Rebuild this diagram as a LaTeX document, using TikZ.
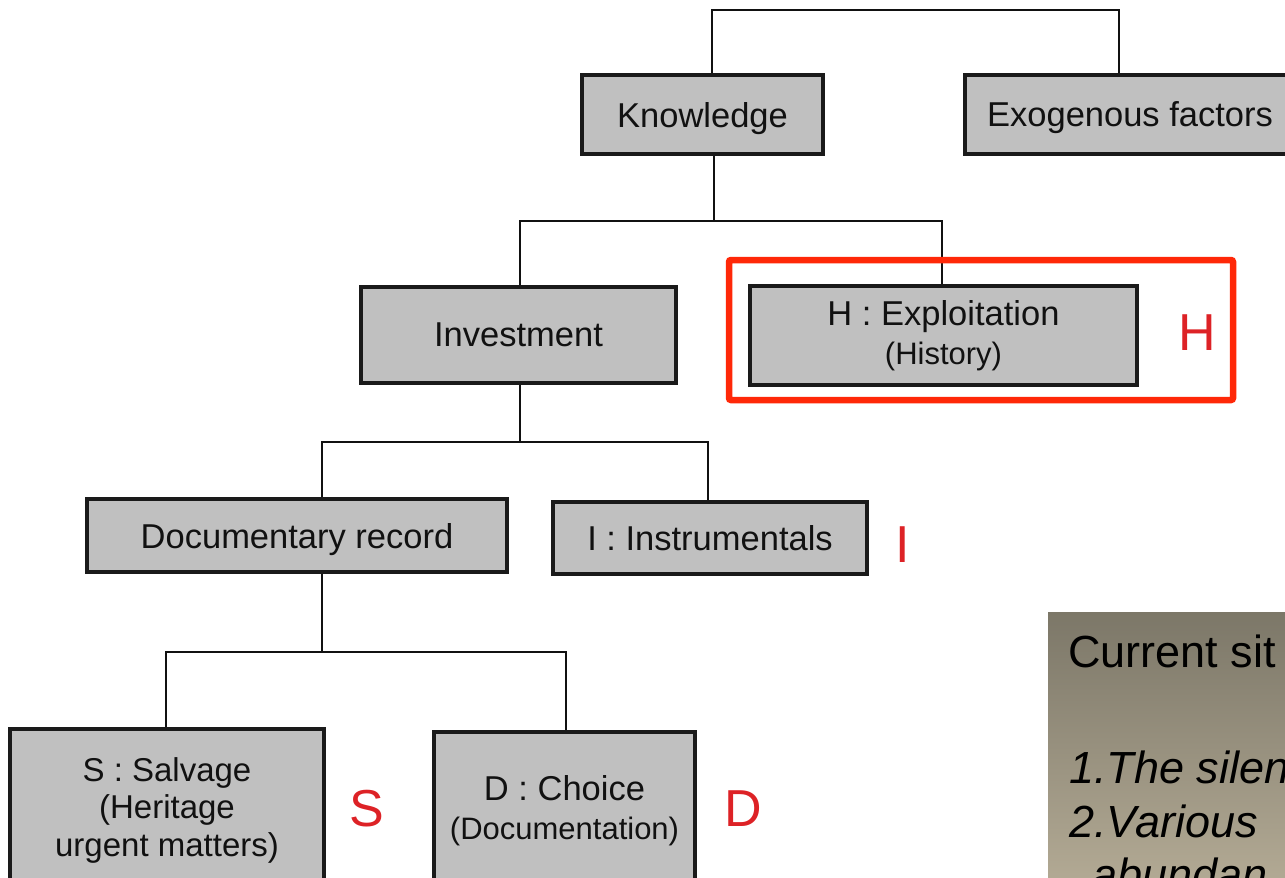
\documentclass[tikz,border=0pt]{standalone}
\usepackage{fontspec}
\setmainfont{Liberation Sans}
\definecolor{boxfill}{HTML}{C0C0C0}
\definecolor{boxline}{HTML}{1A1A1A}
\definecolor{linecol}{HTML}{111111}
\definecolor{textdark}{HTML}{111111}
\definecolor{tagred}{HTML}{DD2226}
\definecolor{framered}{HTML}{FF2808}
\definecolor{panelTop}{RGB}{124,119,104}
\definecolor{panelBot}{RGB}{182,173,151}
\newcommand{\subfont}{\fontsize{31}{37}\selectfont}
\begin{document}
\begin{tikzpicture}[x=1pt,y=-1pt,
  box/.style={draw=boxline, line width=3.2pt, fill=boxfill, text=textdark,
    inner sep=0pt, align=center, font=\fontsize{34.5}{39}\selectfont},
  oneline/.style={text depth=0pt},
  link/.style={draw=linecol, line width=2.8pt},
  tag/.style={text=tagred, inner sep=0pt, font=\fontsize{52}{52}\selectfont},
  paneltext/.style={anchor=base west, inner sep=0pt, text=black,
    font=\fontsize{45}{54}\selectfont},
  panelitem/.style={paneltext, font=\fontsize{45}{54}\selectfont\itshape}]
\useasboundingbox (0,0) rectangle (1285,878);
\clip (0,0) rectangle (1285,878);

% junction points of the tree connectors
\coordinate (t0) at (712,10);  \coordinate (t1) at (1119,10);
\coordinate (k0) at (714,221); \coordinate (kL) at (520,221); \coordinate (kR) at (942,221);
\coordinate (i0) at (520,442); \coordinate (iL) at (322,442); \coordinate (iR) at (708,442);
\coordinate (d0) at (322,652); \coordinate (dL) at (166,652); \coordinate (dR) at (566,652);

% boxes
\node[box, oneline, minimum width=241pt, minimum height=79pt]  (know)  at (702.5,114.5) {Knowledge};
\node[box, oneline, minimum width=330pt, minimum height=79pt]  (exo)   at (1130,114.5) {Exogenous factors};
\node[box, oneline, minimum width=315pt, minimum height=96pt]  (inv)   at (518.5,335) {Investment};
\node[box, minimum width=387pt, minimum height=99pt]  (hist)   at (943.5,335.5) {H : Exploitation\\{\subfont (History)}};
\node[box, oneline, minimum width=420pt, minimum height=73pt]  (doc)   at (297,535.5) {Documentary record};
\node[box, oneline, minimum width=314pt, minimum height=72pt]  (instr) at (710,538) {I : Instrumentals};
\node[box, minimum width=314pt, minimum height=162pt, font=\fontsize{33}{37.5}\selectfont]
  (salv) at (167,810) {S : Salvage\\(Heritage\\urgent matters)};
\node[box, minimum width=261pt, minimum height=158pt] (choice) at (564.5,811) {D : Choice\\{\subfont (Documentation)}};

% tree connectors
\draw[link] (know.north -| t0) -- (t0) -- (t1) -- (exo.north -| t1);
\draw[link] (know.south -| k0) -- (k0);
\draw[link] (inv.north -| kL) -- (kL) -- (kR) -- (hist.north -| kR);
\draw[link] (inv.south -| i0) -- (i0);
\draw[link] (doc.north -| iL) -- (iL) -- (iR) -- (instr.north -| iR);
\draw[link] (doc.south -| d0) -- (d0);
\draw[link] (salv.north -| dL) -- (dL) -- (dR) -- (choice.north -| dR);

% red highlight around the H box
\node[draw=framered, line width=6.5pt, rounded corners=2pt,
  minimum width=504pt, minimum height=140pt, inner sep=0pt] (hframe) at (981,330) {};

% letter tags
\node[tag] (tagH) at (1197,333) {H};
\node[tag] (tagI) at (903,545) {I};
\node[tag] (tagS) at (367,809) {S};
\node[tag] (tagD) at (743,809) {D};

% side panel
\shade[top color=panelTop, bottom color=panelBot] (1048,612) rectangle (1300,900);
\node[paneltext] (cur) at (1068,667) {Current sit};
\node[panelitem] (p1) at (1069,783) {1.The silen};
\node[panelitem] (p2) at (1069,837) {2.Various};
\node[panelitem] (p3) at (1092,890) {abundan};
\end{tikzpicture}
\end{document}
